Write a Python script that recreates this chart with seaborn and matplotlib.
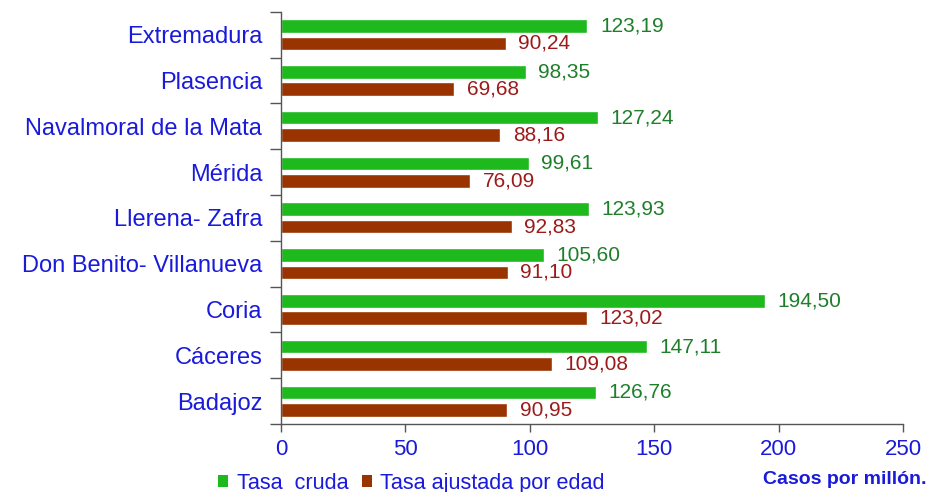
import matplotlib
matplotlib.use("Agg")
import matplotlib.pyplot as plt
import seaborn as sns
import pandas as pd
import numpy as np
from matplotlib.patches import Patch

categories = ["Extremadura", "Plasencia", "Navalmoral de la Mata", "Mérida",
              "Llerena- Zafra", "Don Benito- Villanueva", "Coria", "Cáceres", "Badajoz"]
tasa_cruda = [123.19, 98.35, 127.24, 99.61, 123.93, 105.60, 194.50, 147.11, 126.76]
tasa_ajustada = [90.24, 69.68, 88.16, 76.09, 92.83, 91.10, 123.02, 109.08, 90.95]
series_names = ["Tasa  cruda", "Tasa ajustada por edad"]
x_ticks = [0, 50, 100, 150, 200, 250]

bar_colors = ["#1DB91D", "#993300"]
text_colors = ["#1E7F2A", "#9B1B1B"]
blue = "#1A1ADB"

sns.set_theme(style="white")
plt.rcParams['font.family'] = ['Liberation Sans', 'DejaVu Sans']

df = pd.DataFrame({
    "region": categories * 2,
    "valor": tasa_cruda + tasa_ajustada,
    "serie": [series_names[0]] * len(categories) + [series_names[1]] * len(categories),
})

fig = plt.figure(figsize=(9.41, 4.92), dpi=100)
ax = fig.add_axes([0.2986, 0.138, 0.661, 0.838])

sns.barplot(data=df, y="region", x="valor", hue="serie", order=categories,
            hue_order=series_names, palette=bar_colors, orient="h",
            width=0.76, gap=0.22, ax=ax, legend=False, saturation=1)

for cont, col in zip(ax.containers, text_colors):
    labels = [f"{v:.2f}".replace(".", ",") for v in cont.datavalues]
    ax.bar_label(cont, labels=labels, padding=9, color=col, fontsize=15)

ax.set_xlim(0, 250)
ax.set_ylim(len(categories) - 0.5, -0.5)
ax.set_xticks(x_ticks)
ax.set_xticklabels([str(t) for t in x_ticks], color=blue, fontsize=16)
ax.set_yticks(range(len(categories)))
ax.set_yticklabels(categories, color=blue, fontsize=17)
ax.set_yticks(np.arange(-0.5, len(categories), 1), minor=True)
ax.tick_params(axis="y", which="major", length=0, pad=13.5)
ax.tick_params(axis="y", which="minor", length=8, color="#555555", width=1, left=True)
ax.tick_params(axis="x", length=6, color="#555555", width=1, bottom=True, pad=5)
ax.set_xlabel("")
ax.set_ylabel("")
for s in ["top", "right"]:
    ax.spines[s].set_visible(False)
for s in ["left", "bottom"]:
    ax.spines[s].set_color("#555555")
    ax.spines[s].set_linewidth(1)

handles = [Patch(facecolor=c, edgecolor="none") for c in bar_colors]
leg = fig.legend(handles, series_names, loc="center left", bbox_to_anchor=(0.2317, 0.018),
                 ncol=2, frameon=False, fontsize=15.6, handlelength=0.47, handleheight=0.47,
                 handletextpad=0.4, columnspacing=0.6, borderaxespad=0, borderpad=0)
for t in leg.get_texts():
    t.set_color(blue)

fig.text(0.985, 0.016, "Casos por millón.", ha="right", va="baseline", color=blue,
         fontsize=14, fontweight="bold")

fig.savefig("out.png", dpi=100)
